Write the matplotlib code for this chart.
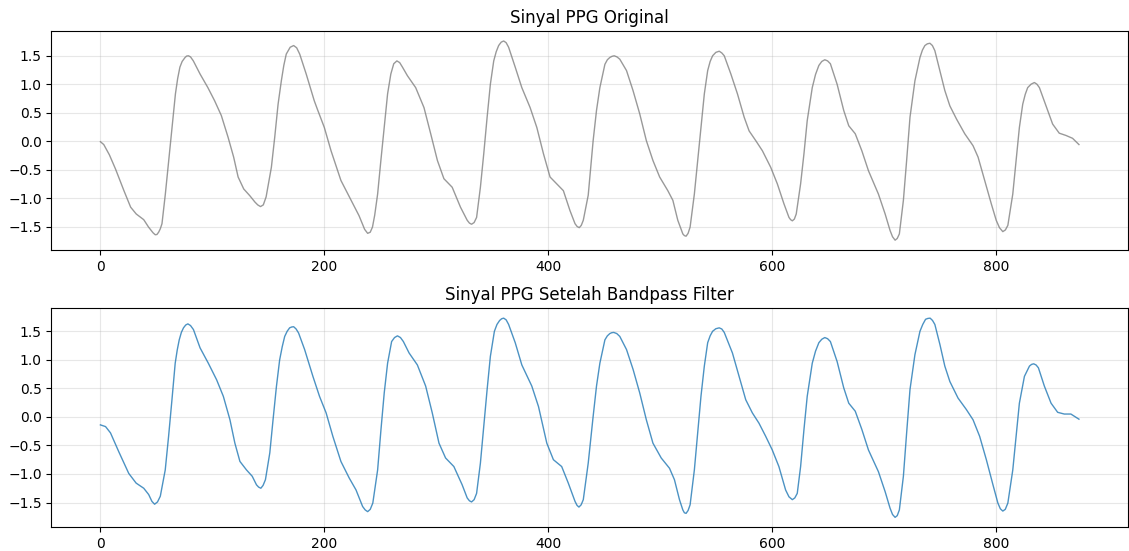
import matplotlib
matplotlib.use("Agg")
import matplotlib.pyplot as plt

# sample index / amplitude, one line per beat
raw_n = [0, 3, 8, 13.5, 21, 27, 32, 38.7, 43, 47, 49, 50.5, 52, 53.5, 55,
         58, 61, 64, 67, 69, 71, 73, 75.6, 77, 78.6, 80.5, 83, 89, 96, 102, 108, 114, 119, 123, 128, 133.5, 138, 140.5, 143, 145.5, 148,
         152.7, 155.7, 158.7, 161.6, 163.8, 166, 169.5, 172.6, 175.3, 178, 183.8, 191, 194, 200, 206, 214.8, 223.9, 231, 236, 238.7, 241, 243, 245,
         247.6, 250.5, 253.5, 256.5, 259.4, 262, 264.8, 267.3, 269.8, 274.2, 281.6, 289, 295, 301, 306.8, 314.2, 321.6, 327.6, 329.6, 331.5, 333.8, 336,
         339.4, 342.4, 345.4, 348.3, 351.3, 353.5, 355.7, 358, 360.2, 362.4, 364.6, 370.5, 376.4, 383.8, 389.8, 395.7, 401.6, 407.5, 413.5, 419.4, 423.9, 425.8, 427.7, 429.5, 431.3,
         435.7, 440.1, 443.1, 446.1, 450.6, 452.8, 455, 456.9, 458.9, 461.4, 463.9, 469.9, 475.7, 481.7, 487.6, 493.5, 499.5, 506.8, 511.3, 515.7, 520.2, 521.6, 523.1, 524.9, 526.7,
         530.5, 533.5, 536.4, 539.4, 542.4, 544.6, 546.8, 549.7, 552.7, 555, 557.2, 563.1, 569, 575, 579.4, 585.3, 591.3, 598.7, 604.6, 610.5, 615, 616.5, 618, 619.8, 621.5,
         625.4, 628.4, 631.3, 635.8, 638.7, 641.7, 644.3, 647, 649.5, 652, 658, 663.9, 668.4, 674.2, 680.1, 686, 694.9, 700.9, 705.3, 707.5, 709.8, 711.7, 713.6,
         717.2, 720.1, 723.1, 727.5, 732, 734.2, 736.4, 738.6, 740.9, 743.1, 745.3, 749.8, 754.2, 758.7, 764.6, 772, 779.4, 783.9, 789.8, 795.7, 800.1, 803, 806, 808.3, 810.5,
         814.9, 817.9, 820.8, 823.8, 826, 828.2, 831.2, 834.2, 836.5, 838.7, 844.6, 850.5, 856.4, 862.4, 868.3, 874]
raw_v = [-0.01, -0.06, -0.24, -0.49, -0.87, -1.16, -1.28, -1.38, -1.51, -1.61, -1.645, -1.64, -1.6, -1.54, -1.45,
         -0.93, -0.34, 0.24, 0.83, 1.10, 1.30, 1.40, 1.47, 1.495, 1.50, 1.48, 1.41, 1.18, 0.94, 0.71, 0.45, 0.07, -0.28, -0.63, -0.84, -0.96, -1.07, -1.12, -1.15, -1.12, -0.98,
         -0.46, 0.07, 0.65, 1.06, 1.33, 1.53, 1.65, 1.68, 1.64, 1.53, 1.18, 0.71, 0.55, 0.24, -0.17, -0.69, -1.04, -1.31, -1.55, -1.62, -1.60, -1.51, -1.30,
         -0.93, -0.34, 0.24, 0.83, 1.18, 1.36, 1.41, 1.38, 1.30, 1.15, 0.94, 0.59, 0.13, -0.34, -0.66, -0.81, -1.16, -1.39, -1.44, -1.46, -1.43, -1.34,
         -0.81, -0.22, 0.42, 1.00, 1.41, 1.57, 1.68, 1.74, 1.76, 1.73, 1.65, 1.30, 0.94, 0.59, 0.24, -0.22, -0.63, -0.75, -0.87, -1.22, -1.45, -1.50, -1.52, -1.48, -1.39,
         -0.95, 0.01, 0.54, 0.94, 1.35, 1.43, 1.47, 1.49, 1.50, 1.48, 1.44, 1.24, 0.89, 0.48, 0.01, -0.34, -0.63, -0.87, -1.04, -1.39, -1.63, -1.66, -1.67, -1.62, -1.51,
         -0.93, -0.34, 0.24, 0.83, 1.24, 1.40, 1.50, 1.56, 1.58, 1.55, 1.50, 1.18, 0.83, 0.42, 0.18, 0.01, -0.17, -0.46, -0.75, -1.10, -1.34, -1.38, -1.40, -1.37, -1.28,
         -0.75, -0.22, 0.36, 0.94, 1.17, 1.33, 1.40, 1.43, 1.41, 1.36, 1.00, 0.54, 0.27, 0.13, -0.17, -0.52, -0.93, -1.28, -1.57, -1.68, -1.74, -1.71, -1.63,
         -1.04, -0.34, 0.42, 1.06, 1.47, 1.60, 1.68, 1.71, 1.72, 1.68, 1.59, 1.24, 0.89, 0.62, 0.39, 0.13, -0.08, -0.28, -0.69, -1.10, -1.39, -1.52, -1.59, -1.56, -1.48,
         -0.93, -0.34, 0.24, 0.65, 0.82, 0.94, 1.00, 1.03, 1.00, 0.94, 0.62, 0.30, 0.14, 0.10, 0.05, -0.06]

filt_n = [0, 4.6, 9, 16.4, 25.3, 31.9, 38.7, 43.1, 46, 48.4, 51, 53.5,
          57.9, 60.9, 63.9, 66.8, 68.6, 70.4, 72.3, 74.2, 76.2, 78.1, 80.5, 83.1, 89, 96.4, 103.8, 109.8, 115.7, 120.1, 124.6, 130.5, 135.6, 139.4, 141.3, 143.3, 145.3, 147.4,
          151.3, 154.2, 157.2, 160.1, 162.4, 164.6, 166.8, 169, 170.8, 172.6, 174.8, 177, 182.4, 189.8, 195.7, 201.6, 207.6, 214.8, 222.2, 228.3, 234.2, 236.5, 238.7, 241, 243.3,
          247.6, 250.6, 253.5, 256.5, 260.1, 262.7, 265.3, 268, 270.6, 275.7, 283.1, 290.5, 296.4, 302.4, 308.3, 315.7, 323.1, 327.6, 329.6, 331.5, 333.8, 336,
          339.4, 342.4, 345.4, 348.3, 351.9, 354.2, 356.6, 358.4, 360.2, 362.4, 364.6, 370.5, 376.4, 385.3, 391.3, 398.7, 404.6, 412, 417.9, 423.9, 425.7, 427.4, 429.4, 431.3,
          435.7, 440.1, 443.1, 446.1, 450.6, 452.8, 455, 456.7, 458.5, 461.2, 463.9, 469.9, 475.8, 481.7, 487.6, 493.5, 500.9, 508.3, 512.7, 517.2, 520.2, 521.6, 523.1, 524.9, 526.7,
          530.5, 533.5, 536.4, 539.4, 542.4, 544.6, 546.8, 549.7, 552.7, 555, 557.2, 564.5, 570.5, 576.4, 582.3, 588.2, 594.2, 600.1, 606, 612, 615, 618, 620.2, 622.4,
          625.4, 628.4, 631.3, 635.8, 638.7, 641.7, 644.3, 647, 649.5, 652, 658, 663.9, 668.4, 674.2, 680.1, 686, 694.9, 700.9, 705.3, 707.5, 709.8, 711.7, 713.6,
          717.2, 720.1, 723.1, 727.5, 732, 734.5, 737, 739, 741.1, 743.2, 745.3, 749.8, 754.2, 758.7, 766, 773.4, 779.4, 785.3, 791.3, 797.2, 801.6, 803.8, 806, 808.2, 810.5,
          814.9, 817.9, 820.8, 825.3, 829.8, 831.7, 833.6, 835.7, 837.8, 843.1, 849.1, 855, 860.9, 866.8, 874]
filt_v = [-0.14, -0.17, -0.28, -0.61, -0.99, -1.16, -1.25, -1.36, -1.48, -1.53, -1.49, -1.39,
          -0.93, -0.34, 0.30, 0.94, 1.17, 1.35, 1.48, 1.56, 1.61, 1.63, 1.60, 1.53, 1.21, 0.94, 0.65, 0.36, -0.05, -0.46, -0.78, -0.93, -1.04, -1.19, -1.23, -1.25, -1.20, -1.10,
          -0.63, -0.05, 0.53, 1.00, 1.23, 1.41, 1.50, 1.56, 1.575, 1.58, 1.54, 1.47, 1.18, 0.71, 0.36, 0.07, -0.34, -0.78, -1.07, -1.28, -1.57, -1.63, -1.66, -1.62, -1.51,
          -0.93, -0.22, 0.42, 0.94, 1.32, 1.39, 1.42, 1.39, 1.32, 1.12, 0.91, 0.54, 0.07, -0.46, -0.72, -0.87, -1.19, -1.42, -1.47, -1.49, -1.45, -1.34,
          -0.81, -0.17, 0.48, 1.06, 1.50, 1.62, 1.69, 1.72, 1.73, 1.70, 1.62, 1.30, 0.91, 0.54, 0.18, -0.46, -0.75, -0.87, -1.16, -1.48, -1.55, -1.58, -1.54, -1.45,
          -0.81, 0.01, 0.54, 0.94, 1.35, 1.42, 1.46, 1.475, 1.48, 1.46, 1.41, 1.18, 0.83, 0.42, -0.05, -0.46, -0.72, -0.90, -1.10, -1.45, -1.63, -1.68, -1.69, -1.64, -1.54,
          -0.93, -0.28, 0.36, 0.89, 1.30, 1.42, 1.50, 1.545, 1.56, 1.54, 1.48, 1.12, 0.71, 0.30, 0.07, -0.11, -0.34, -0.58, -0.87, -1.28, -1.40, -1.45, -1.42, -1.34,
          -0.87, -0.22, 0.36, 0.94, 1.15, 1.30, 1.36, 1.39, 1.37, 1.32, 0.97, 0.51, 0.24, 0.10, -0.22, -0.58, -0.96, -1.31, -1.60, -1.71, -1.76, -1.73, -1.63,
          -1.04, -0.28, 0.48, 1.09, 1.50, 1.62, 1.71, 1.725, 1.73, 1.69, 1.62, 1.27, 0.89, 0.62, 0.33, 0.13, -0.05, -0.34, -0.75, -1.19, -1.51, -1.61, -1.65, -1.62, -1.51,
          -0.93, -0.34, 0.24, 0.71, 0.89, 0.92, 0.93, 0.91, 0.86, 0.54, 0.24, 0.08, 0.05, 0.05, -0.04]

fig, (ax1, ax2) = plt.subplots(2, 1, figsize=(11.29, 5.51), dpi=100)
fig.subplots_adjust(left=0.0456, right=0.999, top=0.9437, bottom=0.043, hspace=0.265)

ax1.plot(raw_n, raw_v, color="gray", alpha=0.8, linewidth=1, solid_joinstyle="round")
ax1.set_title("Sinyal PPG Original")
ax1.grid(True, alpha=0.3)

ax2.plot(filt_n, filt_v, color="tab:blue", alpha=0.8, linewidth=1, solid_joinstyle="round")
ax2.set_title("Sinyal PPG Setelah Bandpass Filter")
ax2.grid(True, alpha=0.3)

for ax in (ax1, ax2):
    ax.set_yticks([-1.5, -1.0, -0.5, 0.0, 0.5, 1.0, 1.5])

fig.savefig("out.png", dpi=100)
